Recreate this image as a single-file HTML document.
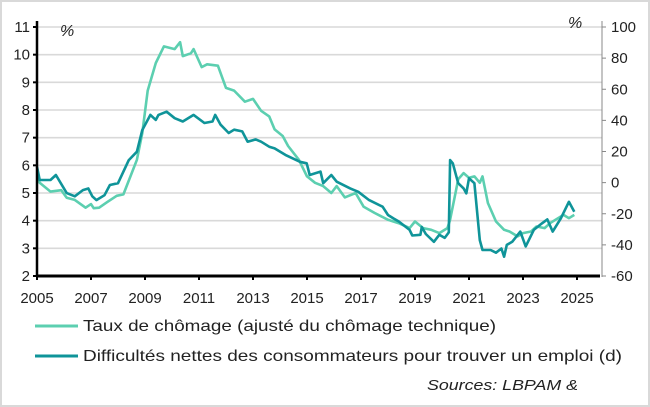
<!DOCTYPE html>
<html><head><meta charset="utf-8"><style>
html,body{margin:0;padding:0;background:#fff;}
#wrap{position:relative;width:650px;height:407px;box-sizing:border-box;border:2px solid #d9d9d9;background:#fff;overflow:hidden;}
svg{position:absolute;left:-2px;top:-2px;}
text{font-family:"Liberation Sans",sans-serif;fill:#222;}
</style></head><body>
<div id="wrap">
<svg id="chart" width="650" height="407"></svg>
</div>
<script>
const years=[2005,2007,2009,2011,2013,2015,2017,2019,2021,2023,2025];
const leftTicks=[2,3,4,5,6,7,8,9,10,11];
const rightTicks=[-60,-40,-20,0,20,40,60,80,100];
const unempT=[2005.0,2005.1,2005.5,2005.9,2006.1,2006.4,2006.8,2007.0,2007.1,2007.3,2007.6,2007.95,2008.2,2008.3,2008.7,2008.9,2009.1,2009.4,2009.7,2010.1,2010.3,2010.4,2010.7,2010.8,2011.1,2011.3,2011.7,2012.0,2012.3,2012.7,2013.0,2013.3,2013.6,2013.8,2014.1,2014.3,2014.7,2015.0,2015.3,2015.6,2015.9,2016.1,2016.4,2016.8,2017.1,2017.5,2018.0,2018.4,2018.8,2019.0,2019.3,2019.6,2019.9,2020.2,2020.3,2020.5,2020.6,2020.8,2021.0,2021.2,2021.4,2021.5,2021.7,2022.0,2022.3,2022.5,2022.8,2023.0,2023.3,2023.5,2023.8,2024.0,2024.2,2024.5,2024.7,2024.9];
const unempV=[5.6,5.37,5.05,5.1,4.83,4.75,4.47,4.6,4.45,4.47,4.67,4.9,4.95,5.2,6.2,7.17,8.7,9.7,10.3,10.2,10.45,9.95,10.05,10.2,9.55,9.65,9.6,8.8,8.7,8.3,8.4,7.97,7.77,7.3,7.06,6.7,6.2,5.6,5.37,5.25,5.0,5.25,4.84,5.0,4.5,4.28,4.03,3.91,3.73,3.97,3.73,3.67,3.55,3.73,4.03,5.0,5.5,5.72,5.55,5.6,5.37,5.6,4.64,3.97,3.67,3.61,3.43,3.55,3.61,3.79,3.73,3.91,4.03,4.21,4.09,4.21];
const diffT=[2005.0,2005.1,2005.3,2005.5,2005.7,2006.1,2006.4,2006.7,2006.9,2007.05,2007.2,2007.5,2007.7,2008.0,2008.4,2008.7,2008.9,2009.2,2009.4,2009.5,2009.8,2010.1,2010.4,2010.8,2011.2,2011.5,2011.6,2011.8,2012.1,2012.3,2012.6,2012.8,2013.1,2013.3,2013.6,2013.8,2014.2,2014.74,2014.99,2015.1,2015.5,2015.6,2015.9,2016.1,2016.6,2016.9,2017.3,2017.8,2018.0,2018.2,2018.4,2018.8,2018.9,2019.2,2019.25,2019.4,2019.7,2019.9,2020.1,2020.25,2020.3,2020.4,2020.6,2020.8,2020.9,2021.0,2021.2,2021.4,2021.5,2021.8,2022.0,2022.2,2022.3,2022.4,2022.6,2022.9,2023.1,2023.4,2023.7,2023.9,2024.1,2024.4,2024.7,2024.9];
const diffV=[10.2,1.7,1.7,1.7,4.9,-6.7,-8.8,-4.8,-3.8,-8.8,-11.2,-8.1,-1.5,-0.4,14.5,19.9,33.8,43.5,40.3,43.5,45.6,41.4,39.3,43.5,38.3,39.3,43.5,37.2,31.9,34,32.9,26.3,27.8,26.3,23.1,22,17.8,13.4,12.4,4.9,7.1,-0.4,4.9,0.6,-3.7,-5.9,-11.2,-15.5,-20.8,-23,-25,-30.4,-34,-33.5,-28.5,-33,-38,-33.5,-35.5,-32,14.5,12.4,-0.4,-3.7,-6.9,2.8,-0.4,-36.9,-43.3,-43.3,-45,-42.3,-47.6,-40,-38,-31.5,-41,-30.4,-26.2,-23.6,-31.5,-23,-12.3,-18.7];
const X0=37,X1=577,YT=27,YB=276;
const xs=t=>X0+(t-2005)/20*(X1-X0);
const yl=v=>YB-(v-2)/9*(YB-YT);
const yr=v=>YB-(v+60)/160*(YB-YT);
const NS='http://www.w3.org/2000/svg';
const svg=document.getElementById('chart');
function mk(tag,attrs,parent){const e=document.createElementNS(NS,tag);for(const k in attrs)e.setAttribute(k,attrs[k]);(parent||svg).appendChild(e);return e;}
leftTicks.forEach(v=>{if(v===2)return;
const g=mk('line',{x1:X0,x2:602,y1:yl(v),y2:yl(v),stroke:'#d9d9d9','stroke-width':1.6});


});
leftTicks.forEach(v=>{
const t=mk('text',{x:30,y:yl(v)+5,'text-anchor':'end','font-size':15});t.textContent=v;


mk('line',{x1:X0-4,x2:X0,y1:yl(v),y2:yl(v),stroke:'#000','stroke-width':2});
});
rightTicks.forEach(v=>{
const t=mk('text',{x:611,y:yr(v)+5,'font-size':15});t.textContent=v;


mk('line',{x1:602,x2:606,y1:yr(v),y2:yr(v),stroke:'#888','stroke-width':1});
});
years.forEach(y=>{
const t=mk('text',{x:xs(y),y:303,'text-anchor':'middle','font-size':15});t.textContent=y;


mk('line',{x1:xs(y),x2:xs(y),y1:YB,y2:YB+4,stroke:'#000','stroke-width':2});
});
const ra=mk('line',{x1:602,x2:602,y1:YT-6,y2:YB+1,stroke:'#888','stroke-width':1});

function path(T,V,f,col,name){
const d=T.map((t,i)=>(i?'L':'M')+xs(t).toFixed(1)+','+f(V[i]).toFixed(1)).join('');
const p=mk('path',{d:d,fill:'none',stroke:col,'stroke-width':2.6,'stroke-linejoin':'round'});


}
path(unempT,unempV,yl,'#5ccfb0','unemployment-line');
path(diffT,diffV,yr,'#0f9499','job-difficulty-line');
const la=mk('line',{x1:X0,x2:X0,y1:YT-6,y2:YB+1,stroke:'#000','stroke-width':2.5});

const xa=mk('line',{x1:X0,x2:600,y1:YB,y2:YB,stroke:'#000','stroke-width':3});

</script>
<svg width="650" height="407" style="position:absolute;left:0;top:0;pointer-events:none">
<text x="60" y="36" font-size="16" font-style="italic">%</text>
<text x="568" y="28" font-size="16" font-style="italic">%</text>
<g>
<line x1="35" x2="78" y1="326" y2="326" stroke="#5ccfb0" stroke-width="3"/>
<text x="83" y="331" font-size="16" textLength="413" lengthAdjust="spacingAndGlyphs">Taux de chômage (ajusté du chômage technique)</text>
<line x1="35" x2="78" y1="356" y2="356" stroke="#0f9499" stroke-width="3"/>
<text x="83" y="361" font-size="16" textLength="539" lengthAdjust="spacingAndGlyphs">Difficultés nettes des consommateurs pour trouver un emploi (d)</text>
</g>
<text x="427" y="390" font-size="15" font-style="italic" textLength="151" lengthAdjust="spacingAndGlyphs">Sources: LBPAM &amp;</text>
</svg>
</body></html>
